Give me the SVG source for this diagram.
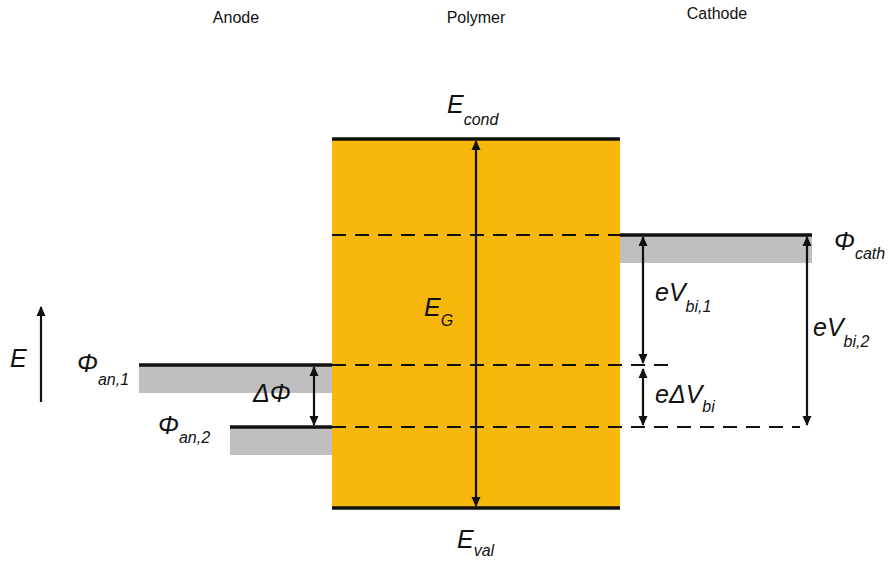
<svg xmlns="http://www.w3.org/2000/svg" width="891" height="562" viewBox="0 0 891 562">
<style>
.hdr{font-family:"Liberation Sans",Arial,sans-serif;font-size:16px;fill:#111;text-anchor:middle}
.lbl{font-family:"Liberation Sans",Arial,sans-serif;font-style:italic;font-size:25px;fill:#111}
.sub{font-size:16px}
.lvl{stroke:#111;stroke-width:3.5;fill:none}
.dash{stroke:#111;stroke-width:2;stroke-dasharray:14,9;fill:none}
.arr{stroke:#111;stroke-width:2.2;fill:none}
.metal{fill:#bfbfbf}
</style>
<defs>
<marker id="ah2" viewBox="0 0 10 10" refX="9" refY="5" markerWidth="10" markerHeight="11" markerUnits="userSpaceOnUse" orient="auto">
<path d="M0,0.5 L10,5 L0,9.5 z" fill="#111"/>
</marker>
<marker id="ah2s" viewBox="0 0 10 10" refX="9" refY="5" markerWidth="10" markerHeight="11" markerUnits="userSpaceOnUse" orient="auto-start-reverse">
<path d="M0,0.5 L10,5 L0,9.5 z" fill="#111"/>
</marker>
</defs>
<g id="headers">
<text class="hdr" x="236" y="23">Anode</text>
<text class="hdr" x="476" y="23">Polymer</text>
<text class="hdr" x="717" y="19">Cathode</text>
</g>
<g id="polymer">
<rect x="332" y="139" width="288" height="369" fill="#f8b80b"/>
<line class="lvl" x1="332" y1="139" x2="620" y2="139"/>
<line class="lvl" x1="332" y1="508" x2="620" y2="508"/>
<text class="lbl" x="447" y="113">E<tspan class="sub" dy="12">cond</tspan></text>
<text class="lbl" x="457" y="548">E<tspan class="sub" dy="8">val</tspan></text>
<text class="lbl" x="424" y="316">E<tspan class="sub" dy="10">G</tspan></text>
</g>
<g id="cathode">
<rect class="metal" x="620" y="235" width="192" height="28"/>
<line class="lvl" x1="620" y1="235" x2="812" y2="235"/>
<text class="lbl" x="834" y="250">Φ<tspan class="sub" dy="9">cath</tspan></text>
</g>
<g id="anode1">
<rect class="metal" x="139" y="365" width="193" height="28"/>
<line class="lvl" x1="139" y1="365" x2="332" y2="365"/>
<text class="lbl" x="77" y="372">Φ<tspan class="sub" dy="13">an,1</tspan></text>
</g>
<g id="anode2">
<rect class="metal" x="230" y="427" width="102" height="28"/>
<line class="lvl" x1="230" y1="427" x2="332" y2="427"/>
<text class="lbl" x="158" y="434">Φ<tspan class="sub" dy="9">an,2</tspan></text>
</g>
<g id="labels">
<text class="lbl" x="10" y="367">E</text>
<text class="lbl" x="253" y="402">ΔΦ</text>
<text class="lbl" x="655" y="301">eV<tspan class="sub" dy="11">bi,1</tspan></text>
<text class="lbl" x="655" y="403">eΔV<tspan class="sub" dy="9">bi</tspan></text>
<text class="lbl" x="813" y="336">eV<tspan class="sub" dy="11">bi,2</tspan></text>
</g>
<g id="connectors">
<line class="dash" x1="332" y1="235" x2="620" y2="235"/>
<line class="dash" x1="332" y1="365" x2="670" y2="365"/>
<line class="dash" x1="332" y1="427" x2="800" y2="427"/>
<line class="arr" x1="476" y1="141" x2="476" y2="506" marker-start="url(#ah2s)" marker-end="url(#ah2)"/>
<line class="arr" x1="314" y1="367" x2="314" y2="425" marker-start="url(#ah2s)" marker-end="url(#ah2)"/>
<line class="arr" x1="643" y1="237" x2="643" y2="363" marker-start="url(#ah2s)" marker-end="url(#ah2)"/>
<line class="arr" x1="643" y1="369" x2="643" y2="425" marker-start="url(#ah2s)" marker-end="url(#ah2)"/>
<line class="arr" x1="807" y1="237" x2="807" y2="425" marker-start="url(#ah2s)" marker-end="url(#ah2)"/>
<line class="arr" x1="41" y1="402" x2="41" y2="307" marker-end="url(#ah2)"/>
</g>
</svg>
